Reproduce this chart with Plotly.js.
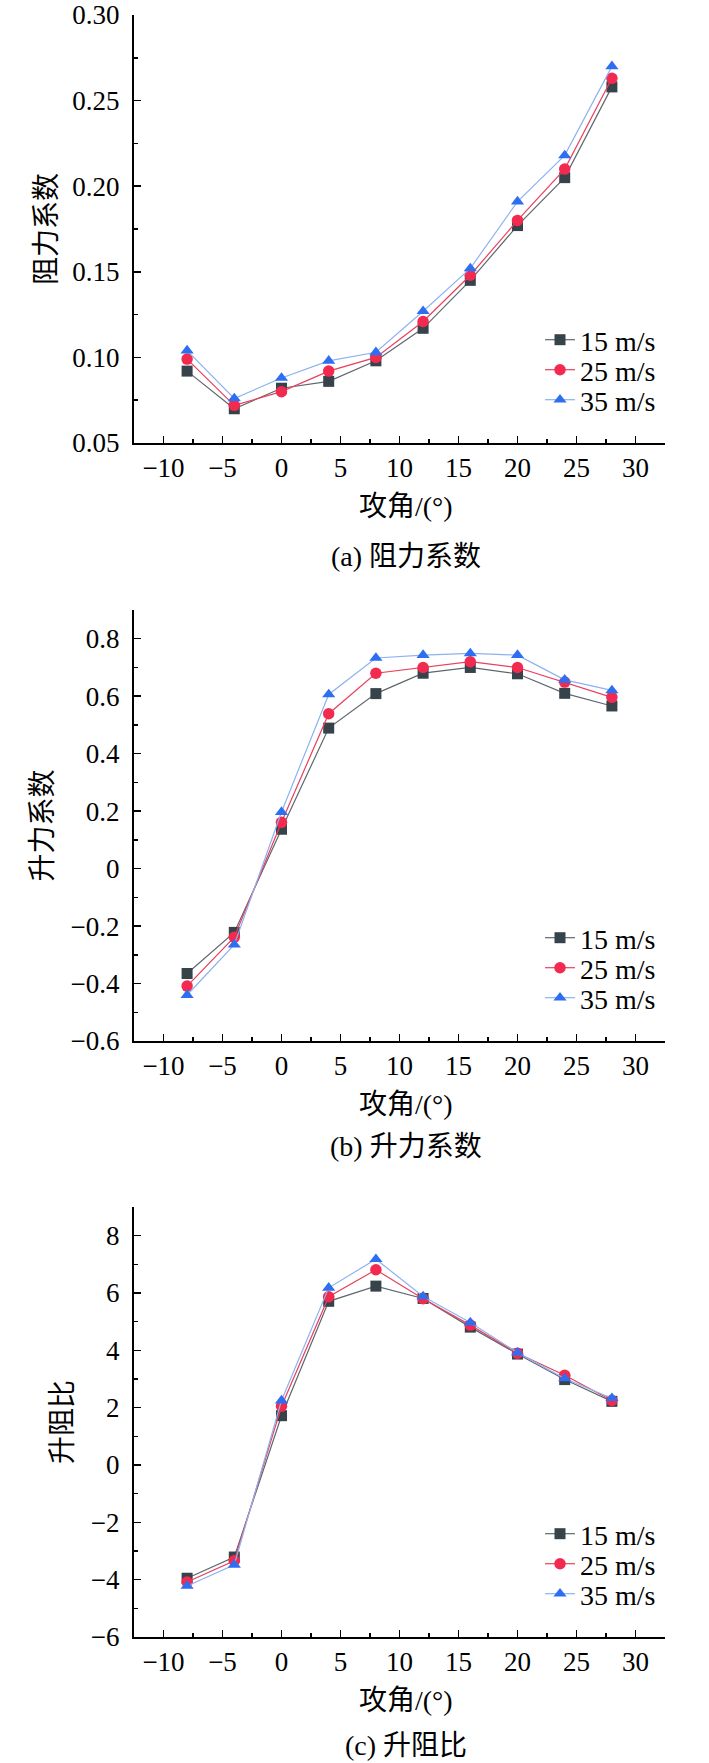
<!DOCTYPE html>
<html>
<head>
<meta charset="utf-8">
<script src="https://cdn.plot.ly/plotly-3.0.1.min.js"></script>
<style>
  html, body { margin: 0; padding: 0; background: #fff; }
  #chart { width: 709px; height: 1763px; }
</style>
</head>
<body>
<div id="chart"></div>
<script>
// ---- data ----
const angle = [-8, -4, 0, 4, 8, 12, 16, 20, 24, 28];
const seriesNames = ['15 m/s', '25 m/s', '35 m/s'];

// (a) drag coefficient
const cd15 = [0.092, 0.070, 0.082, 0.086, 0.098, 0.117, 0.145, 0.177, 0.205, 0.258];
const cd25 = [0.099, 0.072, 0.080, 0.092, 0.100, 0.121, 0.148, 0.180, 0.210, 0.263];
const cd35 = [0.104, 0.076, 0.088, 0.098, 0.103, 0.127, 0.152, 0.191, 0.218, 0.270];

// (b) lift coefficient
const cl15 = [-0.365, -0.222, 0.137, 0.489, 0.609, 0.680, 0.700, 0.678, 0.610, 0.566];
const cl25 = [-0.409, -0.239, 0.161, 0.539, 0.680, 0.700, 0.720, 0.700, 0.649, 0.596];
const cl35 = [-0.440, -0.265, 0.197, 0.606, 0.733, 0.743, 0.749, 0.743, 0.657, 0.620];

// (c) lift-to-drag ratio
const ld15 = [-3.95, -3.21, 1.72, 5.71, 6.24, 5.81, 4.81, 3.87, 2.98, 2.22];
const ld25 = [-4.08, -3.34, 2.05, 5.87, 6.81, 5.80, 4.88, 3.90, 3.13, 2.25];
const ld35 = [-4.22, -3.48, 2.25, 6.18, 7.18, 5.88, 4.97, 3.92, 3.02, 2.33];

const yTitles = ['阻力系数', '升力系数', '升阻比'];
const captions = ['(a) 阻力系数', '(b) 升力系数', '(c) 升阻比'];
const xTitle = '攻角/(°)';

// ---- styling ----
const W = 709, H = 1763;
const FONT = "Liberation Serif, 'Noto Sans CJK SC', serif";
const TICKFONT = "Liberation Serif";
const markerColors = ['#36434b', '#f22a50', '#2d6ff0'];
const lineColors = ['#5d686e', '#e8415c', '#8db2f2'];
const symbols = ['square', 'circle', 'triangle-up'];
const sizes = [11, 11.5, 11.5];

// panel pixel geometry (top / bottom of plot area)
const panels = [
  { top: 15,  bottom: 443,  range: [0.05, 0.30], dtick: 0.05, minor: 0.025, fmt: '.2f', ytx: 47 },
  { top: 610, bottom: 1041, range: [-0.6, 0.9], dtick: 0.2,  minor: 0.1,   fmt: '',    ytx: 42 },
  { top: 1207, bottom: 1637, range: [-6, 9],    dtick: 2,    minor: 1,     fmt: '',    ytx: 62 }
];
const plotLeft = 134, plotRight = 665;
const dataSets = [[cd15, cd25, cd35], [cl15, cl25, cl35], [ld15, ld25, ld35]];
const legendOffsets = [-103, -73, -43];
const capOffsets = [113, 105, 108];

const py = v => 1 - v / H;
const px = v => v / W;

const traces = [];
const layout = {
  width: W, height: H,
  margin: { l: 0, r: 0, t: 0, b: 0 },
  paper_bgcolor: '#fff', plot_bgcolor: '#fff',
  font: { family: FONT, size: 27, color: '#000' },
  showlegend: true,
  annotations: []
};

panels.forEach((p, i) => {
  const sfx = i === 0 ? '' : String(i + 1);
  layout['xaxis' + sfx] = {
    domain: [px(plotLeft), px(plotRight)],
    anchor: 'y' + sfx,
    range: [-12.5, 32.5],
    tickmode: 'linear', tick0: 0, dtick: 5,
    ticks: 'inside', ticklen: 7, tickwidth: 1.5, tickcolor: '#000',
    minor: { ticks: 'inside', ticklen: 4, tickwidth: 1.5, tickcolor: '#000', dtick: 2.5, tick0: 0 },
    showline: true, linecolor: '#000', linewidth: 2,
    showgrid: false, zeroline: false,
    tickfont: { family: TICKFONT, size: 27, color: '#000' },
    ticklabelstandoff: 0,
    fixedrange: true
  };
  layout['yaxis' + sfx] = {
    domain: [py(p.bottom), py(p.top)],
    anchor: 'x' + sfx,
    range: p.range,
    tickmode: 'linear', tick0: 0, dtick: p.dtick,
    tickformat: p.fmt,
    ticks: 'inside', ticklen: 7, tickwidth: 1.5, tickcolor: '#000',
    minor: { ticks: 'inside', ticklen: 4, tickwidth: 1.5, tickcolor: '#000', dtick: p.minor, tick0: 0 },
    showline: true, linecolor: '#000', linewidth: 2,
    showgrid: false, zeroline: false,
    tickfont: { family: TICKFONT, size: 27, color: '#000' },
    ticklabelstandoff: 7,
    fixedrange: true
  };

  dataSets[i].forEach((ys, s) => {
    const k = i * 3 + s;
    const lg = k === 0 ? 'legend' : 'legend' + (k + 1);
    traces.push({
      type: 'scatter', mode: 'lines+markers',
      x: angle, y: ys, name: seriesNames[s],
      xaxis: 'x' + sfx, yaxis: 'y' + sfx,
      legend: lg,
      line: { color: lineColors[s], width: 1.2 },
      marker: { symbol: symbols[s], size: sizes[s], color: markerColors[s], line: { width: 0 } }
    });
    layout[lg] = {
      x: px(540), xanchor: 'left',
      y: py(p.bottom + legendOffsets[s]), yanchor: 'middle',
      bgcolor: 'rgba(0,0,0,0)', borderwidth: 0,
      font: { family: FONT, size: 28, color: '#000' },
      itemclick: false, itemdoubleclick: false
    };
  });

  layout.annotations.push({
    xref: 'paper', yref: 'paper', x: px(p.ytx), y: py((p.top + p.bottom) / 2),
    text: yTitles[i], textangle: -90, showarrow: false,
    xanchor: 'center', yanchor: 'middle',
    font: { family: FONT, size: 28, color: '#000' }
  });
  layout.annotations.push({
    xref: 'paper', yref: 'paper', x: px(406), y: py(p.bottom + 63),
    text: xTitle, showarrow: false, xanchor: 'center', yanchor: 'middle',
    font: { family: FONT, size: 28, color: '#000' }
  });
  layout.annotations.push({
    xref: 'paper', yref: 'paper', x: px(406), y: py(p.bottom + capOffsets[i]),
    text: captions[i], showarrow: false, xanchor: 'center', yanchor: 'middle',
    font: { family: FONT, size: 28, color: '#000' }
  });
});

Plotly.newPlot('chart', traces, layout, { displayModeBar: false, staticPlot: true });
</script>
</body>
</html>
